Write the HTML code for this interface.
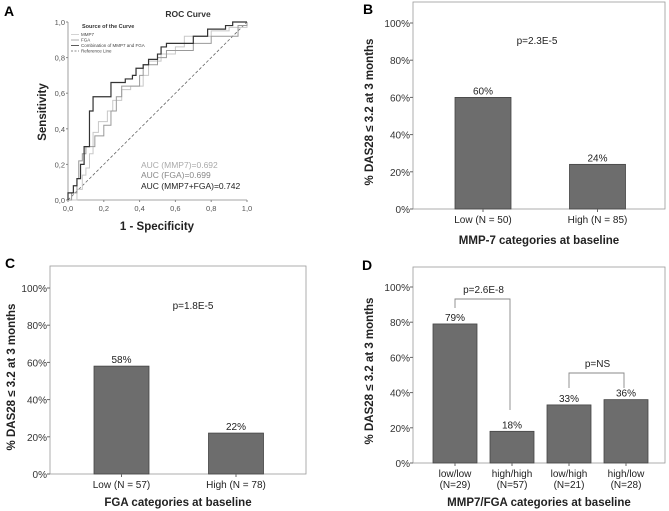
<!DOCTYPE html>
<html><head><meta charset="utf-8">
<style>
html,body{margin:0;padding:0;background:#fff;}
svg{display:block;font-family:"Liberation Sans",Arial,sans-serif;}
</style></head>
<body>
<svg id="fig" width="669" height="511" viewBox="0 0 669 511" xmlns="http://www.w3.org/2000/svg"></svg>
<script>
// ---------- data ----------
const rocTicks = ["0,0","0,2","0,4","0,6","0,8","1,0"];
const rocCombFpr = [0,0,0.03,0.03,0.05,0.05,0.07,0.09,0.12,0.12,0.14,0.14,0.2,0.24,0.24,0.3,0.32,0.36,0.38,0.42,0.45,0.5,0.52,0.55,0.7,0.78,0.88,0.92,1];
const rocCombTpr = [0,0.04,0.04,0.08,0.08,0.12,0.2,0.3,0.3,0.5,0.55,0.58,0.58,0.6,0.66,0.66,0.68,0.7,0.74,0.76,0.79,0.82,0.86,0.88,0.92,0.96,0.98,1,1];
const rocFgaFpr = [0,0.02,0.05,0.06,0.08,0.1,0.15,0.2,0.24,0.27,0.3,0.4,0.42,0.5,0.55,0.7,0.8,0.95,1];
const rocFgaTpr = [0,0.04,0.12,0.22,0.26,0.3,0.36,0.42,0.5,0.58,0.64,0.7,0.76,0.8,0.84,0.88,0.92,0.98,1];
const rocMmpFpr = [0,0.05,0.08,0.1,0.12,0.14,0.17,0.22,0.25,0.3,0.35,0.42,0.45,0.52,0.6,0.65,0.8,0.9,1];
const rocMmpTpr = [0,0.06,0.14,0.18,0.26,0.38,0.44,0.5,0.56,0.62,0.64,0.7,0.78,0.82,0.86,0.92,0.95,0.97,1];
const pctTicks = ["0%","20%","40%","60%","80%","100%"];
const bCats = ["Low (N = 50)","High (N = 85)"];
const bVals = [60,24];
const cCats = ["Low (N = 57)","High (N = 78)"];
const cVals = [58,22];
const dCats1 = ["low/low","high/high","low/high","high/low"];
const dCats2 = ["(N=29)","(N=57)","(N=21)","(N=28)"];
const dVals = [79,18,33,36];

const NS="http://www.w3.org/2000/svg";
const svg=document.getElementById('fig');
function mk(tag,attrs,parent,text){const e=document.createElementNS(NS,tag);for(const k in attrs)e.setAttribute(k,attrs[k]);if(text!==undefined)e.textContent=text;(parent||svg).appendChild(e);return e;}

// ---------- Panel A ----------
const A={x0:68,x1:247,y0:200,y1:22};
const ax=v=>A.x0+v*(A.x1-A.x0), ay=v=>A.y0-v*(A.y0-A.y1);
const gA=mk('g',{});

let t=mk('text',{x:4,y:16,'font-size':14,'font-weight':'bold'},gA,'A');
t=mk('text',{x:188,y:17,'font-size':8.5,'font-weight':'bold','text-anchor':'middle',fill:'#333'},gA,'ROC Curve');
mk('line',{x1:A.x0,y1:A.y0,x2:A.x1,y2:A.y0,stroke:'#888','stroke-width':0.8},gA);
mk('line',{x1:A.x0,y1:A.y0,x2:A.x0,y2:A.y1,stroke:'#888','stroke-width':0.8},gA);
rocTicks.forEach((lab,i)=>{const v=i/5;
 mk('line',{x1:ax(v),y1:A.y0,x2:ax(v),y2:A.y0+2,stroke:'#888'},gA);
 mk('line',{x1:A.x0-2,y1:ay(v),x2:A.x0,y2:ay(v),stroke:'#888'},gA);
 let e=mk('text',{x:ax(v),y:A.y0+11,'font-size':7.5,'text-anchor':'middle',fill:'#555'},gA,lab);
 e=mk('text',{x:A.x0-3,y:ay(v)+3,'font-size':7.5,'text-anchor':'end',fill:'#555'},gA,lab);
});
t=mk('line',{x1:ax(0),y1:ay(0),x2:ax(1),y2:ay(1),stroke:'#666','stroke-width':0.8,'stroke-dasharray':'3,2'},gA);
function curve(fx,fy,color,w,name){let d='M'+ax(fx[0])+','+ay(fy[0]);for(let i=1;i<fx.length;i++){d+=' L'+ax(fx[i])+','+ay(fy[i-1])+' L'+ax(fx[i])+','+ay(fy[i]);}
 const p=mk('path',{d:d,fill:'none',stroke:color,'stroke-width':w},gA);}
curve(rocMmpFpr,rocMmpTpr,'#c8c8c8',1,'roc-mmp7-line');
curve(rocFgaFpr,rocFgaTpr,'#999',1,'roc-fga-line');
curve(rocCombFpr,rocCombTpr,'#333',1.2,'roc-combination-line');
const lg=mk('g',{},gA);
mk('text',{x:82,y:28,'font-size':5.5,'font-weight':'bold',fill:'#333'},lg,'Source of the Curve');
[['MMP7','#c8c8c8',''],['FGA','#999',''],['Combination of MMP7 and FGA','#333',''],['Reference Line','#666','2,1.5']].forEach((it,i)=>{const y=36+i*5.5;
 const l=mk('line',{x1:71,y1:y-1.5,x2:79,y2:y-1.5,stroke:it[1],'stroke-width':0.8},lg);if(it[2])l.setAttribute('stroke-dasharray',it[2]);
 const e=mk('text',{x:81,y:y,'font-size':4.5,fill:'#444'},lg,it[0]);});
[['AUC (MMP7)=0.692','#aaa',168],['AUC (FGA)=0.699','#888',178],['AUC (MMP7+FGA)=0.742','#222',189]].forEach(a=>{const e=mk('text',{x:141,y:a[2],'font-size':8.5,fill:a[1]},gA,a[0]);});
t=mk('text',{x:157,y:230,'font-size':11.5,'font-weight':'bold','text-anchor':'middle',fill:'#222'},gA,'1 - Specificity');
t=mk('text',{x:0,y:0,'font-size':11.5,'font-weight':'bold','text-anchor':'middle',fill:'#222',transform:'translate(46,112) rotate(-90)'},gA,'Sensitivity');

// ---------- bar panels ----------
function barPanel(o){
 const g=mk('g',{});
 const y=v=>o.y0-v/100*(o.y0-o.y100);
 const cx=i=>o.c0+i*o.cs;
 let e=mk('text',{x:o.lx,y:o.ly,'font-size':14,'font-weight':'bold'},g,o.label);
 e=mk('rect',{x:o.fx0,y:o.fy0,width:o.fx1-o.fx0,height:o.y0-o.fy0,fill:'none',stroke:'#999','stroke-width':0.8},g);
 pctTicks.forEach((lab,i)=>{const v=i*20;
  mk('line',{x1:o.fx0-3,y1:y(v),x2:o.fx0,y2:y(v),stroke:'#666'},g);
  const tt=mk('text',{x:o.fx0-3,y:y(v)+4,'font-size':10,'text-anchor':'end',fill:'#333'},g,lab);});
 o.vals.forEach((v,i)=>{const c=cx(i);
  const r=mk('rect',{x:c-o.bw/2,y:y(v),width:o.bw,height:y(0)-y(v),fill:'#6d6d6d',stroke:'#444','stroke-width':0.8},g);
  const vl=mk('text',{x:c,y:y(v)-3,'font-size':10,'text-anchor':'middle',fill:'#222'},g,v+'%');
  const c1=mk('text',{x:c,y:o.y0+14,'font-size':10,'text-anchor':'middle',fill:'#222'},g,o.cats[i]);
  if(o.cats2){const c2=mk('text',{x:c,y:o.y0+25,'font-size':10,'text-anchor':'middle',fill:'#222'},g,o.cats2[i]);}
  mk('line',{x1:c,y1:o.y0,x2:c,y2:o.y0+3,stroke:'#666'},g);
 });
 e=mk('text',{x:(o.fx0+o.fx1)/2,y:o.ty,'font-size':11.5,'font-weight':'bold','text-anchor':'middle',fill:'#222'},g,o.xtitle);
 e=mk('text',{x:0,y:0,'font-size':11.5,'font-weight':'bold','text-anchor':'middle',fill:'#222',transform:'translate('+o.yx+','+((o.y0+o.y100)/2-4)+') rotate(-90)'},g,'% DAS28 \u2264 3.2 at 3 months');
 return {g,y,cx};
}
const B=barPanel({name:'panel-b',label:'B',lx:363,ly:14,fx0:413,fx1:665,fy0:2,y0:209,y100:23,bw:56,c0:483,cs:114.5,vals:bVals,cats:bCats,xtitle:'MMP-7 categories at baseline',ty:244,yx:373});
t=mk('text',{x:537,y:44,'font-size':10,'text-anchor':'middle',fill:'#222'},B.g,'p=2.3E-5');
const C=barPanel({name:'panel-c',label:'C',lx:5,ly:268,fx0:50,fx1:306,fy0:266,y0:474,y100:288,bw:55,c0:121.5,cs:114.5,vals:cVals,cats:cCats,xtitle:'FGA categories at baseline',ty:506,yx:15});
t=mk('text',{x:193,y:309,'font-size':10,'text-anchor':'middle',fill:'#222'},C.g,'p=1.8E-5');
const D=barPanel({name:'panel-d',label:'D',lx:362,ly:270,fx0:413,fx1:665,fy0:267,y0:463,y100:287,bw:44,c0:455,cs:57,vals:dVals,cats:dCats1,cats2:dCats2,xtitle:'MMP7/FGA categories at baseline',ty:506,yx:373});
function bracket(i,j,topY,endI,endJ,label,name){
 const p=mk('path',{d:'M'+D.cx(i)+','+endI+' V'+topY+' H'+(D.cx(j)-2)+' V'+endJ,fill:'none',stroke:'#888','stroke-width':0.9},D.g);
 const e=mk('text',{x:(D.cx(i)+D.cx(j))/2,y:topY-6,'font-size':10,'text-anchor':'middle',fill:'#222'},D.g,label);
}
bracket(0,1,299,308,410,'p=2.6E-8','bracket-lowlow-highhigh');
bracket(2,3,373,388,388,'p=NS','bracket-lowhigh-highlow');
</script>
</body></html>
